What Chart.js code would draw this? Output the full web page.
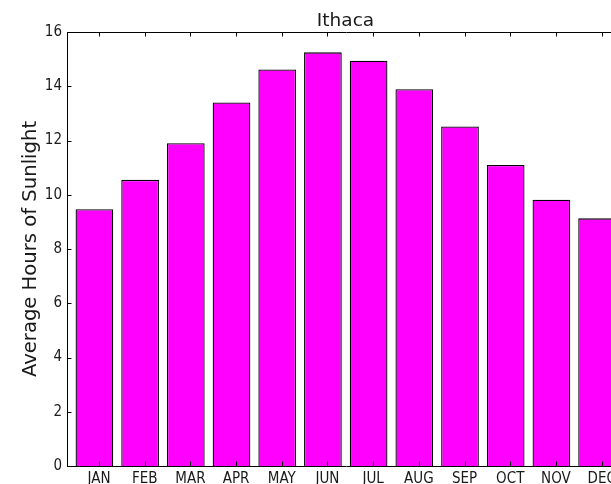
<!DOCTYPE html>
<html>
<head>
<meta charset="utf-8">
<script src="https://cdn.jsdelivr.net/npm/chart.js@4/dist/chart.umd.min.js"></script>
<style>
  html, body { margin: 0; padding: 0; background: #fff; overflow: hidden; width: 611px; height: 484px; }
  #wrap { width: 611px; height: 484px; overflow: hidden; position: relative; }
  canvas { position: absolute; left: 0; top: 0; }
</style>
</head>
<body>
<div id="wrap"><canvas id="c" width="691" height="484"></canvas></div>
<script>
const TITLE = 'Ithaca';
const Y_LABEL = 'Average Hours of Sunlight';
const MONTHS = ['JAN','FEB','MAR','APR','MAY','JUN','JUL','AUG','SEP','OCT','NOV','DEC'];
const SUNLIGHT = [9.47, 10.55, 11.9, 13.4, 14.62, 15.25, 14.94, 13.89, 12.52, 11.1, 9.82, 9.13];
const Y_TICKS = [0, 2, 4, 6, 8, 10, 12, 14, 16];

const TICK_FONT = "'DejaVu Sans Condensed', 'DejaVu Sans', sans-serif";
const TEXT_COLOR = '#1a1a1a';

// bar centres at i+0.4 (edge-aligned bars of width 0.8), tick labels at i+0.5
const barData = SUNLIGHT.map((v, i) => ({ x: i + 0.4, y: v }));
const tickPositions = MONTHS.map((m, i) => i + 0.5);

const framePlugin = {
  id: 'frame',
  afterDatasetsDraw(chart) {
    const { ctx, chartArea: a, scales } = chart;
    const xs = scales.x, ys = scales.y;
    const right = xs.getPixelForValue(12);
    ctx.save();
    ctx.strokeStyle = '#000';
    ctx.lineWidth = 1;
    ctx.beginPath();
    const L = 4.5;
    tickPositions.forEach(v => {
      const px = Math.round(xs.getPixelForValue(v)) + 0.5;
      ctx.moveTo(px, a.bottom); ctx.lineTo(px, a.bottom - L);
      ctx.moveTo(px, a.top); ctx.lineTo(px, a.top + L);
    });
    Y_TICKS.forEach(v => {
      const py = Math.round(ys.getPixelForValue(v)) + 0.5;
      ctx.moveTo(a.left, py); ctx.lineTo(a.left + L, py);
      ctx.moveTo(right, py); ctx.lineTo(right - L, py);
    });
    ctx.stroke();
    ctx.beginPath();
    ctx.rect(Math.round(a.left) + 0.5, Math.round(a.top) + 0.5,
             Math.round(right - a.left), Math.round(a.bottom - a.top));
    ctx.stroke();
    ctx.restore();
  }
};

new Chart(document.getElementById('c'), {
  type: 'bar',
  data: {
    datasets: [{
      data: barData,
      backgroundColor: '#ff00ff',
      borderColor: '#000000',
      borderWidth: 1.3,
      categoryPercentage: 1,
      barPercentage: 0.825
    }]
  },
  options: {
    responsive: false,
    animation: false,
    devicePixelRatio: 1,
    layout: { padding: 0 },
    plugins: {
      legend: { display: false },
      tooltip: { enabled: false },
      title: {
        display: true,
        text: TITLE,
        color: TEXT_COLOR,
        font: { family: "'DejaVu Sans', sans-serif", size: 18.5, weight: 'normal', lineHeight: 1.2 },
        padding: { top: 9.6, bottom: 0.2 }
      }
    },
    scales: {
      x: {
        type: 'linear',
        offset: false,
        min: -0.2,
        max: 13.455,
        afterBuildTicks: (scale) => { scale.ticks = tickPositions.map(v => ({ value: v })); },
        afterFit: (scale) => { scale.height = 18; },
        ticks: {
          autoSkip: false,
          maxRotation: 0,
          minRotation: 0,
          padding: 4,
          color: TEXT_COLOR,
          font: { family: TICK_FONT, size: 15 },
          callback: (v, i) => MONTHS[i]
        },
        grid: { display: false, drawTicks: false, offset: false },
        border: { display: false }
      },
      y: {
        min: 0,
        max: 16,
        afterBuildTicks: (scale) => { scale.ticks = Y_TICKS.map(v => ({ value: v })); },
        afterFit: (scale) => { scale.width = 67; },
        ticks: {
          padding: 5,
          color: TEXT_COLOR,
          font: { family: TICK_FONT, size: 15 },
          callback: (v) => String(v)
        },
        grid: { display: false, drawTicks: false },
        border: { display: false },
        title: {
          display: true,
          text: Y_LABEL,
          color: TEXT_COLOR,
          font: { family: "'DejaVu Sans', sans-serif", size: 19.6, lineHeight: 1.2 },
          padding: { top: 19, bottom: 0 }
        }
      }
    }
  },
  plugins: [framePlugin]
});
</script>
</body>
</html>
